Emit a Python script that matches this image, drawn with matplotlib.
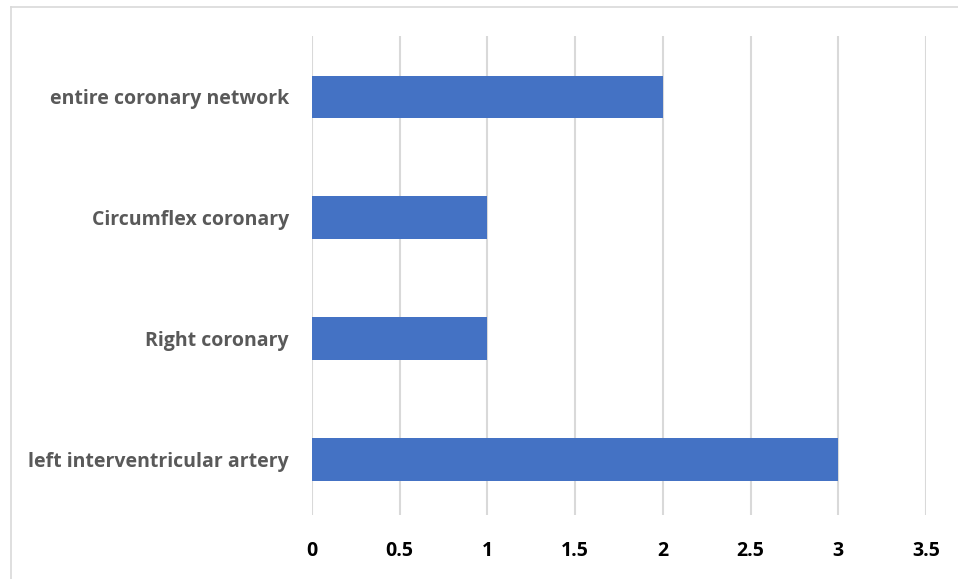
import matplotlib.pyplot as plt
from matplotlib.lines import Line2D

categories = ["left interventricular artery", "Right coronary",
              "Circumflex coronary", "entire coronary network"]
values = [3, 1, 1, 2]
xticks = [0, 0.5, 1, 1.5, 2, 2.5, 3, 3.5]
xtick_labels = ["0", "0.5", "1", "1.5", "2", "2.5", "3", "3.5"]

plt.rcParams['font.family'] = ['Open Sans', 'DejaVu Sans']

fig = plt.figure(figsize=(9.58, 5.79), dpi=100)
ax = fig.add_axes([312/958, 1 - 515/579, (926 - 312)/958, (515 - 36)/579])

ax.barh(range(len(categories)), values, height=0.355, color='#4472C4', zorder=3)

ax.set_xlim(0, 3.5)
ax.set_ylim(-0.455, 3.504)
ax.set_xticks(xticks)
ax.set_xticklabels(xtick_labels, fontsize=14, fontweight='bold', color='black')
ax.set_yticks(range(len(categories)))
ax.set_yticklabels(categories, fontsize=14, fontweight='bold', color='#595959')
ax.tick_params(axis='both', length=0)
ax.tick_params(axis='x', pad=19)
ax.tick_params(axis='y', pad=16.5)
ax.grid(axis='x', color='#D9D9D9', linewidth=1.5, zorder=0)
for s in ax.spines.values():
    s.set_visible(False)

# outer chart border
fig.add_artist(Line2D([11/958, 1], [1 - 7/579, 1 - 7/579], color='#D9D9D9', lw=1.2))
fig.add_artist(Line2D([11/958, 11/958], [0, 1 - 7/579], color='#D9D9D9', lw=1.2))

fig.savefig("out.png", dpi=100)
